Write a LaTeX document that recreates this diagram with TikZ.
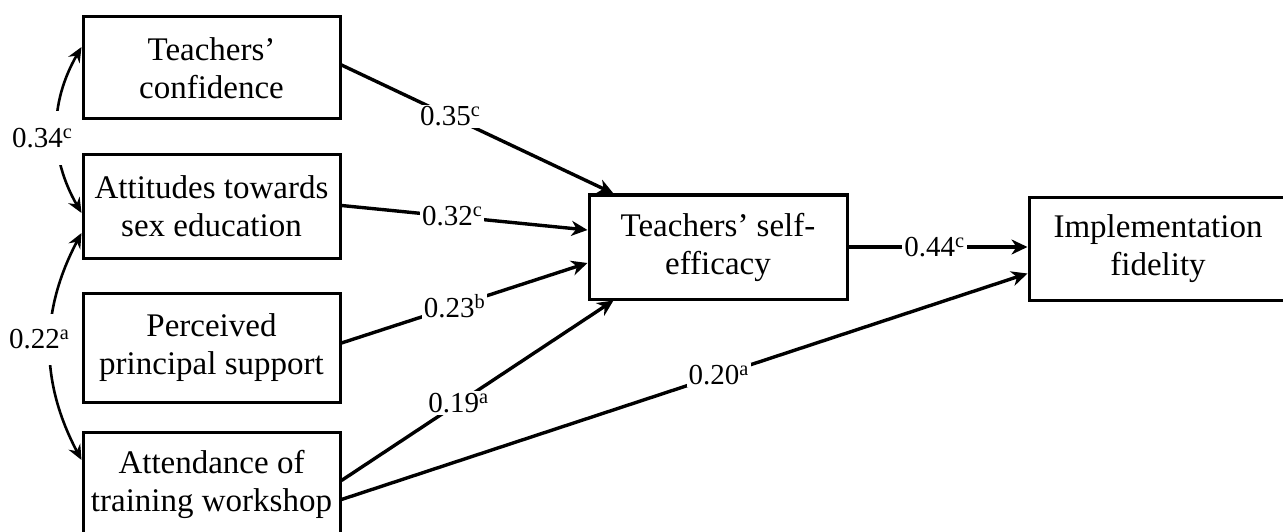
\documentclass[tikz,border=0pt]{standalone}
\usepackage{fontspec}
\setmainfont{Liberation Serif}
\usetikzlibrary{arrows.meta}

\begin{document}
\begin{tikzpicture}[x=1pt, y=-1pt,
		var/.style={draw, line width=3pt, align=center, minimum width=257pt, inner sep=0pt, font=\fontsize{33}{38}\selectfont},
		coef/.style={fill=white, inner sep=2pt, font=\fontsize{29}{32}\selectfont},
		link/.style={line width=3.4pt, -{Stealth[length=16pt, width=15pt, inset=5pt]}},
		corr/.style={line width=2.6pt, {Stealth[length=15pt, width=13pt, inset=5pt]}-{Stealth[length=15pt, width=13pt, inset=5pt]}}]
	\useasboundingbox (0,0) rectangle (1283,532);
	% predictors
	\node[var, minimum height=102pt] (conf) at (211.5,68) {Teachers’\\confidence};
	\node[var, minimum height=103pt] (att) at (211.5,206.5) {Attitudes towards\\sex education};
	\node[var, minimum height=109pt] (perc) at (211.5,348) {Perceived\\principal support};
	\node[var, minimum height=105pt] (work) at (211.5,484.5) {Attendance of\\training workshop};
	% mediator and outcome
	\node[var, minimum width=258pt, minimum height=104pt] (eff) at (718,247) {Teachers’ self-\\efficacy};
	\node[var, minimum width=258pt, minimum height=103pt] (fid) at (1158,248.5) {Implementation\\fidelity};
	% paths
	\draw[link] ([yshift=3pt]conf.east) -- node[coef, pos=0.4] {0.35\textsuperscript{c}} ([xshift=26pt]eff.north west);
	\draw[link] ([yshift=1pt]att.east) -- node[coef, pos=0.45] {0.32\textsuperscript{c}} ([yshift=17pt]eff.west);
	\draw[link] ([yshift=5pt]perc.east) -- node[coef, pos=0.46] {0.23\textsuperscript{b}} ([yshift=-16pt]eff.west);
	\draw[link] ([yshift=4pt]work.east) -- node[coef, pos=0.43] {0.19\textsuperscript{a}} ([xshift=26pt]eff.south west);
	\draw[link] ([yshift=-15pt]work.east) -- node[coef, pos=0.55] {0.20\textsuperscript{a}} ([yshift=-25pt]fid.west);
	\draw[link] (eff.east) -- node[coef, pos=0.48] {0.44\textsuperscript{c}} (eff.east -| fid.west);
	% correlations
	\draw[corr] ([yshift=21pt]conf.west) to[bend right=30] node[coef, minimum height=54pt, xshift=-15pt, yshift=-8pt] {0.34\textsuperscript{c}} ([yshift=-6.5pt]att.west);
	\draw[corr] ([yshift=-26.5pt]att.west) to[bend right=28] node[coef, minimum height=51pt, xshift=-11pt, yshift=7pt] {0.22\textsuperscript{a}} ([yshift=24.5pt]work.west);
\end{tikzpicture}
\end{document}
